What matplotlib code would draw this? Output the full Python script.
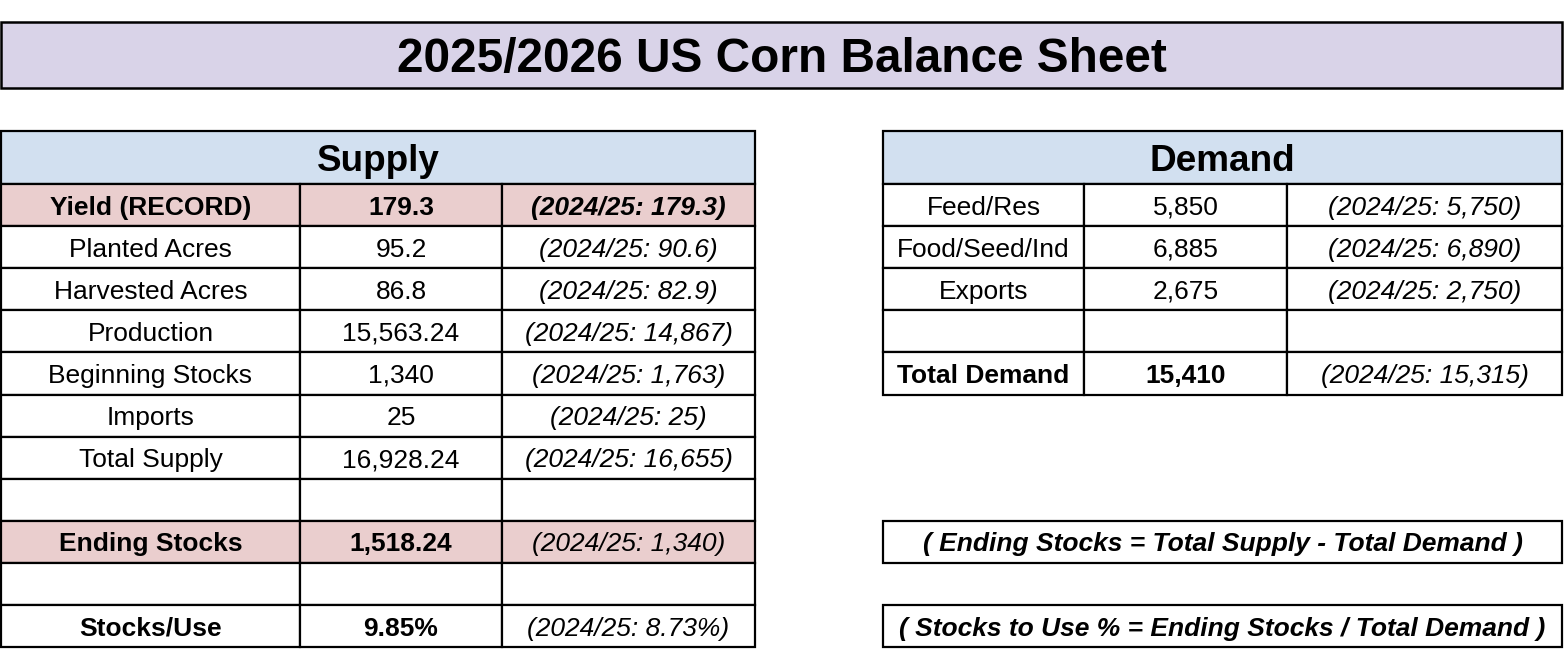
import matplotlib.pyplot as plt
from matplotlib.patches import Rectangle

plt.rcParams['font.family'] = ['Liberation Sans', 'DejaVu Sans']

# Daten der Tabelle
title = "2025/2026 US Corn Balance Sheet"

supply_labels = ["Yield (RECORD)", "Planted Acres", "Harvested Acres", "Production",
                 "Beginning Stocks", "Imports", "Total Supply", "",
                 "Ending Stocks", "", "Stocks/Use"]
supply_values = ["179.3", "95.2", "86.8", "15,563.24", "1,340", "25", "16,928.24", "",
                 "1,518.24", "", "9.85%"]
supply_prev = ["(2024/25: 179.3)", "(2024/25: 90.6)", "(2024/25: 82.9)", "(2024/25: 14,867)",
               "(2024/25: 1,763)", "(2024/25: 25)", "(2024/25: 16,655)", "",
               "(2024/25: 1,340)", "", "(2024/25: 8.73%)"]
supply_bold = [True, False, False, False, False, False, False, False, True, False, True]
supply_pink = [True, False, False, False, False, False, False, False, True, False, False]

demand_labels = ["Feed/Res", "Food/Seed/Ind", "Exports", "", "Total Demand"]
demand_values = ["5,850", "6,885", "2,675", "", "15,410"]
demand_prev = ["(2024/25: 5,750)", "(2024/25: 6,890)", "(2024/25: 2,750)", "",
               "(2024/25: 15,315)"]
demand_bold = [False, False, False, False, True]

formulas = ["( Ending Stocks = Total Supply - Total Demand )",
            "( Stocks to Use % = Ending Stocks / Total Demand )"]

# Farben
LAVENDER = "#d9d3e8"
BLUE = "#d2e0f0"
PINK = "#eacece"

W, H = 1567, 656
fig = plt.figure(figsize=(W / 100, H / 100), dpi=100)
ax = fig.add_axes([0, 0, 1, 1])
ax.set_xlim(0, W)
ax.set_ylim(H, 0)
ax.axis('off')

LW = 1.6
ROW_H = 42.1
HEAD_TOP, HEAD_BOT = 131, 184
CELL_FS = 19


def cell(x0, x1, y0, y1, text="", fc="white", bold=False, italic=False, fs=CELL_FS, lw=LW):
    ax.add_patch(Rectangle((x0, y0), x1 - x0, y1 - y0, facecolor=fc,
                           edgecolor="black", linewidth=lw))
    if text:
        # Grundlinie so setzen, dass die Großbuchstaben mittig sitzen
        px = fs * 100 / 72
        ax.text((x0 + x1) / 2, (y0 + y1) / 2 + 0.36 * px, text, ha="center", va="baseline",
                fontsize=fs, fontweight="bold" if bold else "normal",
                fontstyle="italic" if italic else "normal")


# Titel
cell(1, 1562, 22, 88, title, fc=LAVENDER, bold=True, fs=34.4, lw=1.8)

# Supply-Tabelle
s_cols = [1, 300, 502, 755]
cell(s_cols[0], s_cols[-1], HEAD_TOP, HEAD_BOT, "Supply", fc=BLUE, bold=True, fs=26.6)
for i, (lab, val, prev) in enumerate(zip(supply_labels, supply_values, supply_prev)):
    y0 = HEAD_BOT + i * ROW_H
    y1 = y0 + ROW_H
    fc = PINK if supply_pink[i] else "white"
    b = supply_bold[i]
    cell(s_cols[0], s_cols[1], y0, y1, lab, fc=fc, bold=b)
    cell(s_cols[1], s_cols[2], y0, y1, val, fc=fc, bold=b)
    cell(s_cols[2], s_cols[3], y0, y1, prev, fc=fc, bold=(i == 0), italic=True)

# Demand-Tabelle
d_cols = [883, 1084, 1287, 1562]
cell(d_cols[0], d_cols[-1], HEAD_TOP, HEAD_BOT, "Demand", fc=BLUE, bold=True, fs=26.6)
for i, (lab, val, prev) in enumerate(zip(demand_labels, demand_values, demand_prev)):
    y0 = HEAD_BOT + i * ROW_H
    y1 = y0 + ROW_H
    b = demand_bold[i]
    cell(d_cols[0], d_cols[1], y0, y1, lab, bold=b)
    cell(d_cols[1], d_cols[2], y0, y1, val, bold=b)
    cell(d_cols[2], d_cols[3], y0, y1, prev, italic=True)

# Formeln neben Ending Stocks und Stocks/Use
for text, row in zip(formulas, [8, 10]):
    y0 = HEAD_BOT + row * ROW_H
    cell(d_cols[0], d_cols[-1], y0, y0 + ROW_H, text, bold=True, italic=True)

fig.savefig("out.png", dpi=100)
